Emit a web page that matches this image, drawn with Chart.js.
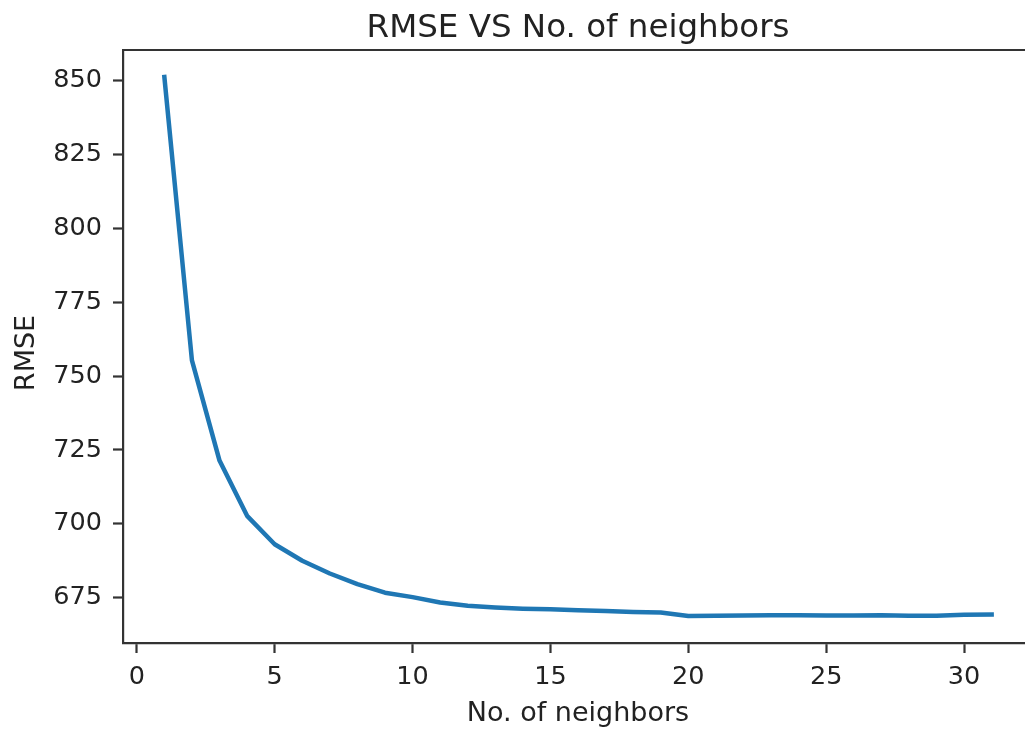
<!DOCTYPE html>
<html>
<head>
<meta charset="utf-8">
<script src="https://cdn.jsdelivr.net/npm/chart.js@4/dist/chart.umd.min.js"></script>
<style>
  html, body { margin: 0; padding: 0; background: #fff; overflow: hidden; width: 1025px; height: 730px; }
  #wrap { width: 1045px; height: 730px; }
  #c { width: 1045px; height: 730px; display: block; }
</style>
</head>
<body>
<div id="wrap"><canvas id="c" width="1045" height="730"></canvas></div>
<script>
// ---- data ----
const neighbors = [1,2,3,4,5,6,7,8,9,10,11,12,13,14,15,16,17,18,19,20,21,22,23,24,25,26,27,28,29,30,31];
const rmseValues = [851.2, 755.3, 721.4, 702.7, 693.1, 687.5, 683.2, 679.6, 676.7, 675.2,
                    673.4, 672.3, 671.7, 671.3, 671.1, 670.8, 670.5, 670.2, 670.0, 668.8,
                    668.9, 669.0, 669.1, 669.1, 669.0, 669.0, 669.1, 668.9, 668.9, 669.2, 669.3];
const xTickValues = [0, 5, 10, 15, 20, 25, 30];
const yTickValues = [675, 700, 725, 750, 775, 800, 825, 850];
const titleText = 'RMSE VS No. of neighbors';
const xLabel = 'No. of neighbors';
const yLabel = 'RMSE';

// matplotlib-like 5% margins
const xr = neighbors[neighbors.length - 1] - neighbors[0];
const yMinD = Math.min(...rmseValues), yMaxD = Math.max(...rmseValues);
const yr = yMaxD - yMinD;

const FONT = "'DejaVu Sans', sans-serif";
const TXT = '#222';
const SPINE = '#333';

const framePlugin = {
  id: 'frame',
  afterDraw(chart) {
    const {ctx, chartArea: a} = chart;
    ctx.save();
    ctx.strokeStyle = SPINE;
    ctx.lineWidth = 2.2;
    ctx.beginPath();
    ctx.moveTo(a.left, a.top);
    ctx.lineTo(a.right + 20, a.top);
    ctx.stroke();
    ctx.fillStyle = TXT;
    ctx.font = "32.5px " + FONT;
    ctx.textAlign = 'center';
    ctx.textBaseline = 'alphabetic';
    ctx.fillText(titleText, (a.left + a.right) / 2, 37);
    // y label
    ctx.font = "27px " + FONT;
    ctx.translate(34, 353);
    ctx.rotate(-Math.PI / 2);
    ctx.fillText(yLabel, 0, 0);
    ctx.restore();
  }
};

new Chart(document.getElementById('c'), {
  type: 'line',
  data: {
    datasets: [{
      data: neighbors.map((k, i) => ({x: k, y: rmseValues[i]})),
      borderColor: '#1f77b4',
      borderWidth: 4.5,
      pointRadius: 0,
      tension: 0,
      fill: false,
      borderCapStyle: 'square',
      borderJoinStyle: 'round'
    }]
  },
  plugins: [framePlugin],
  options: {
    responsive: false,
    animation: false,
    layout: { padding: { top: 50, right: 12, left: 0, bottom: 0 } },
    plugins: { legend: { display: false }, tooltip: { enabled: false }, title: { display: false } },
    scales: {
      x: {
        type: 'linear',
        min: neighbors[0] - 0.05 * xr,
        max: neighbors[neighbors.length - 1] + 0.05 * xr,
        afterBuildTicks: s => { s.ticks = xTickValues.map(v => ({value: v})); },
        afterFit: s => { s.height = 87; },
        grid: { drawOnChartArea: false, drawTicks: true, tickLength: 10, tickColor: SPINE, tickWidth: 2.2,
                color: SPINE },
        border: { display: true, color: SPINE, width: 2.2 },
        ticks: { color: TXT, font: { family: FONT, size: 25.5 }, padding: 9, maxRotation: 0, autoSkip: false },
        title: { display: true, text: xLabel, color: TXT, font: { family: FONT, size: 27 }, padding: { top: 0, bottom: 0 } }
      },
      y: {
        type: 'linear',
        min: yMinD - 0.05 * yr,
        max: yMaxD + 0.05 * yr,
        afterBuildTicks: s => { s.ticks = yTickValues.map(v => ({value: v})); },
        afterFit: s => { s.width = 123; },
        grid: { drawOnChartArea: false, drawTicks: true, tickLength: 10, tickColor: SPINE, tickWidth: 2.2,
                color: SPINE },
        border: { display: true, color: SPINE, width: 2.2 },
        ticks: { color: TXT, font: { family: FONT, size: 25.5 }, padding: 11, autoSkip: false },
        title: { display: false }
      }
    }
  }
});
</script>
</body>
</html>
